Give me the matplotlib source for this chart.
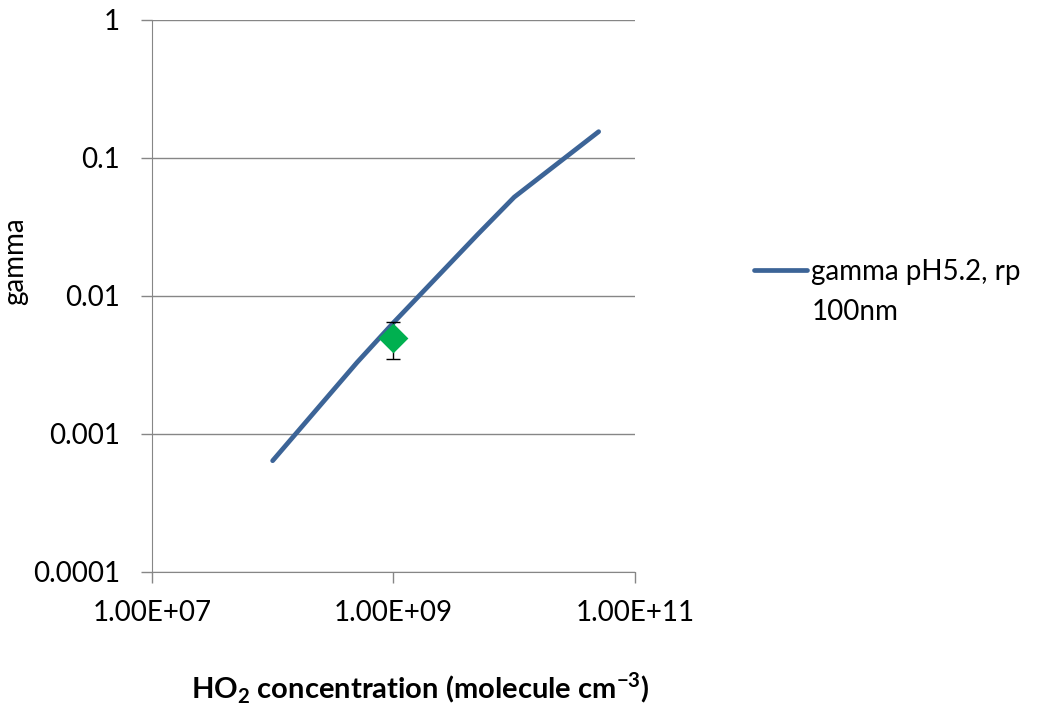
import numpy as np
from matplotlib import pyplot as plt

plt.rcParams["font.family"] = ["Lato", "DejaVu Sans"]

# model curve
conc = [1e8, 5e8, 1e9, 5e9, 1e10, 5e10]
gamma = [6.4e-4, 3.3e-3, 6.4e-3, 0.028, 0.052, 0.155]

# measured point
meas_conc = [1e9]
meas_gamma = [0.005]
meas_err = [0.0015]

y_ticks = [1e-4, 1e-3, 1e-2, 1e-1, 1]
y_labels = ["0.0001", "0.001", "0.01", "0.1", "1"]
x_ticks = [1e7, 1e9, 1e11]
x_labels = ["1.00E+07", "1.00E+09", "1.00E+11"]

fig = plt.figure(figsize=(10.4, 7.11), dpi=100)
ax = fig.add_axes([0.146, 0.1955, 0.4646, 0.7765])

ax.plot(conc, gamma, color="#3c6497", linewidth=3.4, solid_capstyle="round",
        label="gamma pH5.2, rp", zorder=3)
ax.errorbar(meas_conc, meas_gamma, yerr=meas_err, fmt="none", ecolor="black",
            elinewidth=1.0, capsize=5, capthick=1.0, zorder=4)
ax.scatter(meas_conc, meas_gamma, marker="D", s=230, color="#00b050", zorder=5,
           linewidths=0)

ax.set_xscale("log")
ax.set_yscale("log")
ax.set_xlim(1e7, 1e11)
ax.set_ylim(1e-4, 1)
ax.set_xticks(x_ticks)
ax.set_xticklabels(x_labels)
ax.set_yticks(y_ticks)
ax.set_yticklabels(y_labels)
ax.minorticks_off()
ax.tick_params(axis="both", labelsize=20, color="#868686", length=8, width=1)
ax.tick_params(axis="x", pad=12)
ax.tick_params(axis="y", pad=15)

ax.grid(True, axis="y", color="#868686", linewidth=1)
ax.set_axisbelow(True)
for s in ["top", "right"]:
    ax.spines[s].set_visible(False)
for s in ["left", "bottom"]:
    ax.spines[s].set_color("#868686")

ax.set_ylabel("gamma", fontsize=20)
ax.yaxis.set_label_coords(-0.257, 0.563)
ax.set_xlabel("HO$_\\mathregular{2}$ concentration (molecule cm$^\\mathregular{-3}$)",
              fontsize=21, fontweight="bold")
ax.xaxis.set_label_coords(0.555, -0.18)

leg = ax.legend(loc="center left", bbox_to_anchor=(1.2464, 0.5435), frameon=False,
                fontsize=20, handlelength=1.9, handletextpad=0.14,
                borderpad=0, borderaxespad=0)
# second line of the legend label (excel wraps it under the first line)
ax.text(1.3665, 0.471, "100nm", transform=ax.transAxes, fontsize=20,
        ha="left", va="center")

fig.savefig("out.png", dpi=100)
